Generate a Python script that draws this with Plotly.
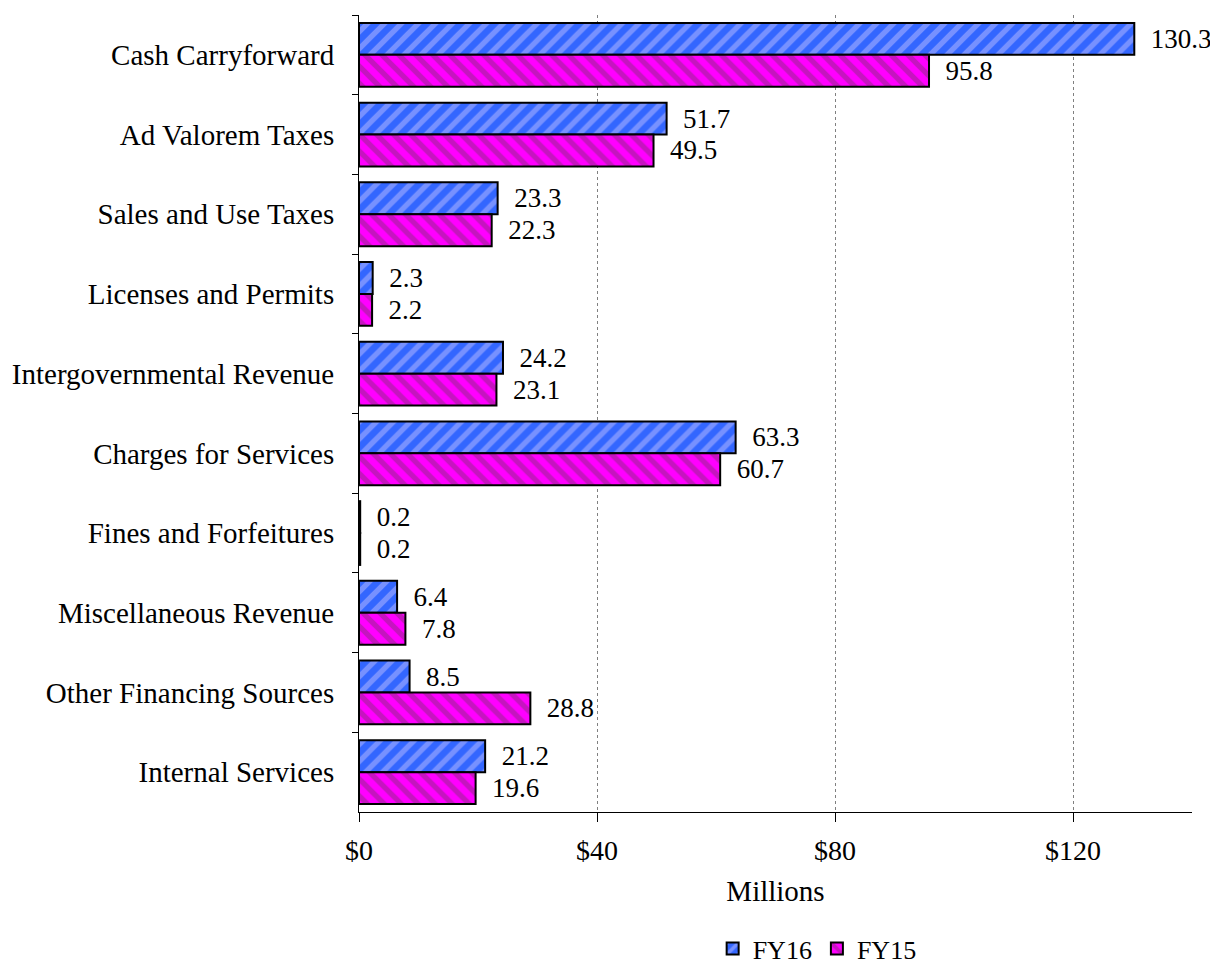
import plotly.graph_objects as go

# ==========================================
# Data
# ==========================================

categories = [
    "Cash Carryforward",
    "Ad Valorem Taxes",
    "Sales and Use Taxes",
    "Licenses and Permits",
    "Intergovernmental Revenue",
    "Charges for Services",
    "Fines and Forfeitures",
    "Miscellaneous Revenue",
    "Other Financing Sources",
    "Internal Services",
]

fy16 = [130.3, 51.7, 23.3, 2.3, 24.2, 63.3, 0.2, 6.4, 8.5, 21.2]
fy15 = [95.8, 49.5, 22.3, 2.2, 23.1, 60.7, 0.2, 7.8, 28.8, 19.6]

x_ticks = [0, 40, 80, 120]
x_tick_labels = ["$0", "$40", "$80", "$120"]

FONT = "Liberation Serif, Times New Roman, serif"

# ==========================================
# Figure
# ==========================================

fig = go.Figure()

fig.add_trace(go.Bar(
    name="FY16",
    y=categories,
    x=fy16,
    orientation="h",
    text=[f"{v:.1f}" for v in fy16],
    texttemplate="  %{text}",
    textposition="outside",
    cliponaxis=False,
    textfont=dict(size=27, color="black", family=FONT),
    marker=dict(
        color="#3366FF",
        line=dict(color="black", width=2),
        pattern=dict(shape="/", fgcolor="#BBBBFF", bgcolor="#3366FF",
                     size=12, solidity=0.45, fillmode="overlay"),
    ),
))

fig.add_trace(go.Bar(
    name="FY15",
    y=categories,
    x=fy15,
    orientation="h",
    text=[f"{v:.1f}" for v in fy15],
    texttemplate="  %{text}",
    textposition="outside",
    cliponaxis=False,
    textfont=dict(size=27, color="black", family=FONT),
    marker=dict(
        color="#FF00FF",
        line=dict(color="black", width=2),
        pattern=dict(shape="\\", fgcolor="#8B2A7F", bgcolor="#FF00FF",
                     size=12, solidity=0.45, fillmode="overlay"),
    ),
))

fig.update_layout(
    width=1210,
    height=958,
    barmode="group",
    bargap=0.2,
    bargroupgap=0,
    paper_bgcolor="white",
    plot_bgcolor="white",
    font=dict(family=FONT, size=28, color="black"),
    margin=dict(l=351, r=26, t=7, b=154, autoexpand=False),
    showlegend=True,
    legend=dict(
        orientation="h",
        x=0.55,
        xanchor="center",
        y=-0.142,
        yanchor="top",
        font=dict(size=26, family=FONT),
        itemwidth=30,
        traceorder="normal",
    ),
    xaxis=dict(
        range=[0, 140],
        tickvals=x_ticks,
        ticktext=x_tick_labels,
        showgrid=True,
        gridcolor="#808080",
        griddash="dot",
        gridwidth=1,
        zeroline=False,
        showline=True,
        linecolor="black",
        linewidth=1,
        ticks="outside",
        ticklen=9,
        tickcolor="black",
        ticklabelstandoff=4,
        tickfont=dict(size=28),
        title=dict(text="Millions", font=dict(size=29), standoff=16),
    ),
    yaxis=dict(
        autorange="reversed",
        showline=True,
        linecolor="black",
        linewidth=1,
        ticks="outside",
        tickson="boundaries",
        ticklen=6,
        tickcolor="black",
        showgrid=False,
        ticklabelstandoff=18,
        tickfont=dict(size=29),
    ),
)

fig.write_html("out.html")
